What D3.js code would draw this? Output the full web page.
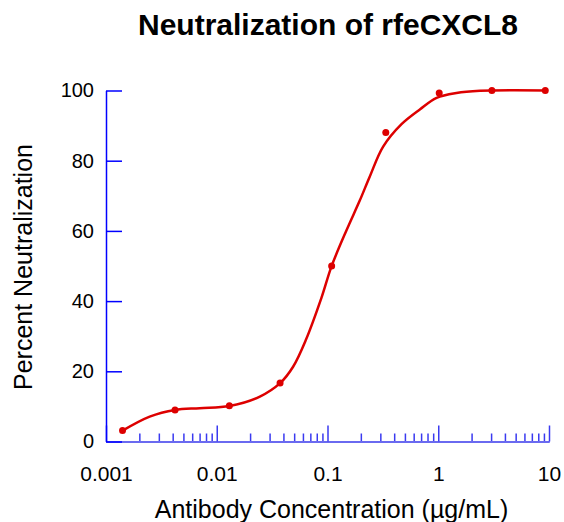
<!DOCTYPE html>
<html>
<head>
<meta charset="utf-8">
<script src="https://cdn.jsdelivr.net/npm/d3@7"></script>
<style>
  body { margin: 0; background: #fff; }
  text { font-family: "Liberation Sans", Arial, Helvetica, sans-serif; fill: #000; }
</style>
</head>
<body>
<div id="neutralization-div"></div>
<script>
// measured points (antibody concentration in ug/mL, percent neutralization)
var concentrations = [0.00141, 0.0042, 0.0130, 0.0373, 0.109, 0.336, 1.02, 3.05, 9.25];
var neutralization = [3.1, 9.0, 10.2, 16.7, 50.0, 88.0, 99.3, 100, 100];

// fitted curve
var fitConc = [0.00141, 0.00248, 0.0042, 0.00702, 0.0130, 0.0245, 0.0375, 0.0489, 0.0637,
               0.0883, 0.1087, 0.1485, 0.196, 0.241, 0.318, 0.466, 0.682, 0.966, 1.46, 2.38, 9.25];
var fitPct = [3.1, 7.1, 9.0, 9.5, 10.1, 12.8, 16.7, 21.3, 28.9,
              41.0, 49.9, 60.2, 68.7, 75.5, 84.0, 90.4, 94.6, 97.9, 99.3, 99.9, 100];

// axis ticks
var xMajorTicks = [0.001, 0.01, 0.1, 1, 10];
var xTickLabels = ["0.001", "0.01", "0.1", "1", "10"];
var yTicks = [0, 20, 40, 60, 80, 100];

var margin = {top: 90.5, right: 15, bottom: 80.5, left: 106},
    width = 564 - margin.left - margin.right,
    height = 522 - margin.top - margin.bottom;

var svg = d3.select("#neutralization-div")
  .append("svg")
    .attr("width", 564)
    .attr("height", 522)
  .append("g")
    .attr("transform", "translate(" + margin.left + "," + margin.top + ")");

var points = concentrations.map((c, i) => ({ conc: c, pct: neutralization[i] }));
var fit = fitConc.map((c, i) => ({ conc: c, pct: fitPct[i] }));

// X axis, log scale
var x = d3.scaleLog()
  .domain([0.001, 10])
  .range([0, width]);

// Y axis
var y = d3.scaleLinear()
  .domain([0, 100])
  .range([height, 0]);

// minor ticks 2..9 in every decade
var minorTicks = [];
xMajorTicks.slice(0, -1).forEach((d) => {
  for (var k = 2; k <= 9; k++) minorTicks.push(d * k);
});

svg.append("g")
  .attr("class", "x-minor")
  .attr("transform", "translate(0," + height + ")")
  .call(d3.axisBottom(x)
    .tickValues(minorTicks)
    .tickFormat("")
    .tickSize(-8)
    .tickSizeOuter(0));

svg.append("g")
  .attr("class", "x-axis")
  .attr("transform", "translate(0," + height + ")")
  .call(d3.axisBottom(x)
    .tickValues(xMajorTicks)
    .tickFormat((d, i) => xTickLabels[i])
    .tickSize(-16)
    .tickSizeOuter(0)
    .tickPadding(25));

svg.selectAll(".x-minor path, .x-axis path")
  .attr("stroke", "#6a6af0")
  .attr("stroke-width", 2);
svg.selectAll(".x-minor line, .x-axis line")
  .attr("stroke", "#3a3af0")
  .attr("stroke-width", 1.5);

svg.append("g")
  .attr("class", "y-axis")
  .call(d3.axisLeft(y)
    .tickValues(yTicks)
    .tickSize(-16)
    .tickSizeOuter(0)
    .tickPadding(12));

svg.selectAll(".y-axis path, .y-axis line")
  .attr("stroke", "#0000ff")
  .attr("stroke-width", 1.5);

svg.selectAll(".x-axis text")
  .attr("font-family", "Liberation Sans, Arial, sans-serif")
  .attr("font-size", 21)
  .attr("fill", "#000");
svg.selectAll(".y-axis text")
  .attr("font-family", "Liberation Sans, Arial, sans-serif")
  .attr("font-size", 20)
  .attr("fill", "#000");

// fitted curve
var line = d3.line()
  .x((d) => x(d.conc))
  .y((d) => y(d.pct))
  .curve(d3.curveCatmullRom.alpha(0.5));

svg.append("path")
  .datum(fit)
  .attr("fill", "none")
  .attr("stroke", "#dd0000")
  .attr("stroke-width", 2.5)
  .attr("d", line);

// data points
svg.append("g")
  .attr("fill", "#dd0000")
  .selectAll("circle")
  .data(points)
  .enter()
    .append("circle")
    .attr("cx", (d) => x(d.conc))
    .attr("cy", (d) => y(d.pct))
    .attr("r", 3.5);

// title
svg.append("text")
  .attr("x", 222)
  .attr("y", -56)
  .style("text-anchor", "middle")
  .attr("font-size", 30)
  .attr("font-weight", "bold")
  .text("Neutralization of rfeCXCL8");

// text label for the x axis
svg.append("text")
  .attr("transform", "translate(" + (width / 2 + 4) + "," + (height + 76) + ")")
  .style("text-anchor", "middle")
  .attr("font-size", 25)
  .text("Antibody Concentration (\u00b5g/mL)");

// text label for the y axis
svg.append("text")
  .attr("transform", "translate(-74," + (height / 2 + 1) + ") rotate(-90)")
  .style("text-anchor", "middle")
  .attr("font-size", 25)
  .text("Percent Neutralization");
</script>
</body>
</html>
